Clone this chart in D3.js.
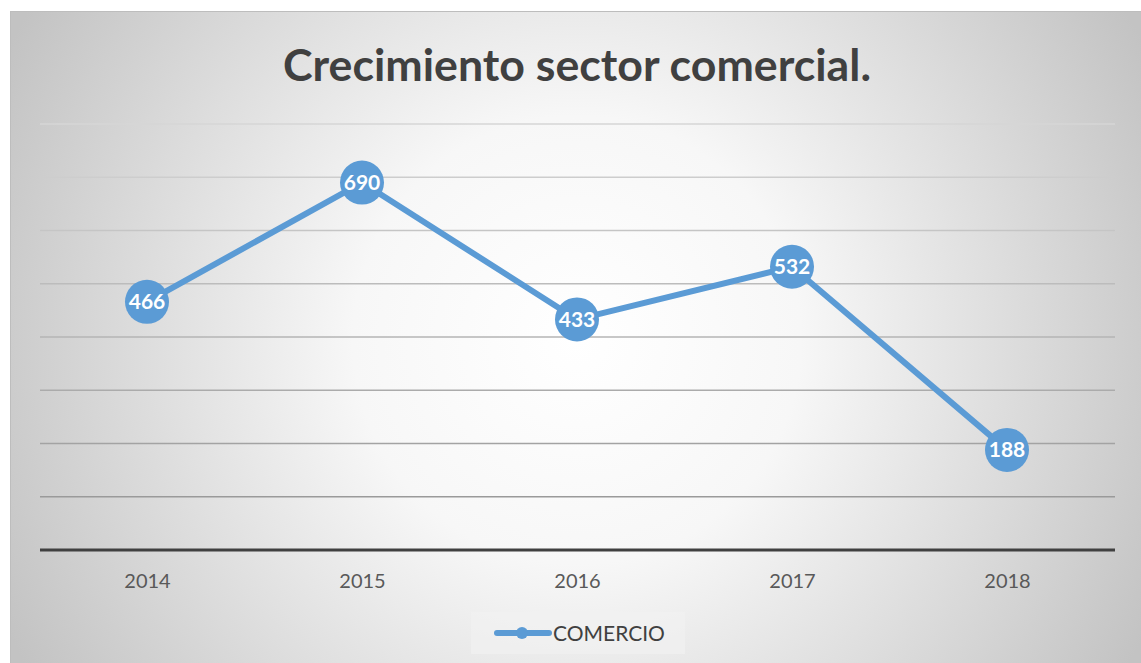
<!DOCTYPE html>
<html><head><meta charset="utf-8">
<script src="https://cdn.jsdelivr.net/npm/d3@7"></script>
<style>body{margin:0;background:#fff}svg{display:block}</style>
</head><body>
<script>
const title = "Crecimiento sector comercial.";
const categories = ["2014","2015","2016","2017","2018"];
const seriesName = "COMERCIO";
const values = [466, 690, 433, 532, 188];
const yTicks = [0,100,200,300,400,500,600,700,800];

const W = 1141, H = 663;
const FONT = "Lato, 'Open Sans', sans-serif";
const svg = d3.select("body").append("svg").attr("width", W).attr("height", H);
const defs = svg.append("defs");
const rg = defs.append("radialGradient").attr("id","bg")
  .attr("gradientUnits","userSpaceOnUse").attr("cx",577).attr("cy",340).attr("r",640);
rg.append("stop").attr("offset","0").attr("stop-color","#ffffff");
rg.append("stop").attr("offset","0.35").attr("stop-color","#f7f7f7");
rg.append("stop").attr("offset","1").attr("stop-color","#c3c3c3");

svg.append("rect").attr("x",10.5).attr("y",11.5).attr("width",W).attr("height",H)
  .attr("fill","url(#bg)").attr("stroke","#bdbdbd").attr("stroke-width",1);

const x = d3.scalePoint().domain(categories).range([147, 1007]);
const y = d3.scaleLinear().domain([0, 800]).range([550, 124]);

// gridlines
const gridColor = d3.scaleLinear().domain([800, 100]).range(["#d6d6d6", "#9a9a9a"]);
svg.append("g").selectAll("line").data(yTicks.filter(d => d > 0)).join("line")
  .attr("x1", 40).attr("x2", 1115)
  .attr("y1", d => y(d)).attr("y2", d => y(d))
  .attr("stroke", d => gridColor(d)).attr("stroke-width", 1.3);

// baseline
svg.append("line").attr("x1",40).attr("x2",1115).attr("y1",y(0)).attr("y2",y(0))
  .attr("stroke","#404040").attr("stroke-width",3);

// x axis labels
const xAxis = d3.axisBottom(x).tickSize(0).tickPadding(0);
const gx = svg.append("g").attr("transform",`translate(0,${y(0)})`).call(xAxis);
gx.select(".domain").remove();
gx.selectAll("text").attr("y", 38).attr("dy", 0)
  .attr("font-family",FONT).attr("font-size",20).attr("fill","#595959");

// title
svg.append("text").attr("x",577).attr("y",81).attr("text-anchor","middle")
  .attr("font-family",FONT).attr("font-weight","bold")
  .attr("font-size",44).attr("fill","#404040").attr("textLength",588).attr("lengthAdjust","spacingAndGlyphs").text(title);

// line
const line = d3.line().x((d,i) => x(categories[i])).y(d => y(d));
svg.append("path").datum(values).attr("d", line).attr("fill","none")
  .attr("stroke","#5b9bd5").attr("stroke-width",6).attr("stroke-linejoin","round");

const pts = svg.append("g").selectAll("g").data(values).join("g")
  .attr("transform",(d,i)=>`translate(${x(categories[i])},${y(d)})`);
pts.append("circle").attr("r",22).attr("fill","#5b9bd5");
pts.append("text").attr("text-anchor","middle").attr("dy","0.36em")
  .attr("font-family",FONT).attr("font-weight","bold")
  .attr("font-size",21).attr("fill","#ffffff").text(d => d);

// legend
const lg = svg.append("g");
lg.append("rect").attr("x",471).attr("y",612).attr("width",214).attr("height",42).attr("fill","#f2f2f2").attr("opacity",0.6);
lg.append("line").attr("x1",497).attr("x2",549).attr("y1",633).attr("y2",633)
  .attr("stroke","#5b9bd5").attr("stroke-width",6).attr("stroke-linecap","round");
lg.append("circle").attr("cx",522).attr("cy",633).attr("r",6).attr("fill","#5b9bd5");
lg.append("text").attr("x",553).attr("y",641).attr("font-family",FONT)
  .attr("font-size",21).attr("fill","#404040").text(seriesName);
</script>
</body></html>
